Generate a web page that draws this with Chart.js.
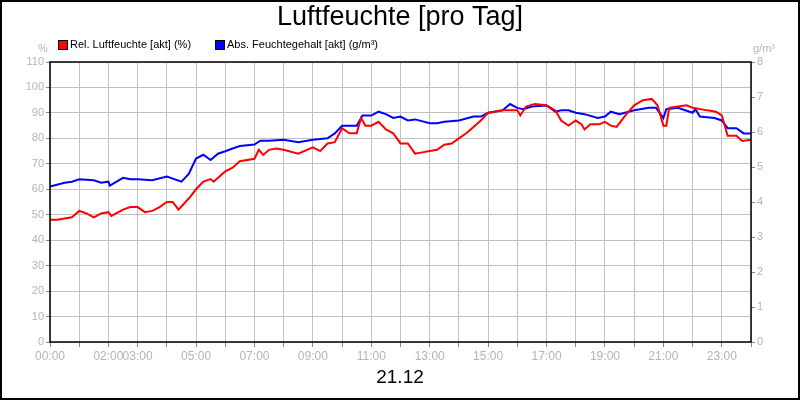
<!DOCTYPE html>
<html><head><meta charset="utf-8">
<script src="https://cdn.jsdelivr.net/npm/chart.js@4"></script>
<style>html,body{margin:0;padding:0;background:#fff}#c{display:block}</style>
</head><body>
<div style="width:800px;height:400px"><canvas id="c" width="800" height="400"></canvas></div>
<script>
const hours = [0,0.25,0.5,0.75,1,1.25,1.5,1.75,2,2.1,2.5,2.75,3,3.25,3.5,3.75,4,4.2,4.4,4.6,4.8,5,5.25,5.5,5.6,6,6.25,6.5,7,7.15,7.3,7.5,7.75,8,8.5,9,9.25,9.5,9.75,10,10.25,10.5,10.65,10.8,11,11.25,11.5,11.75,12,12.25,12.5,12.75,13,13.25,13.5,13.75,14,14.25,14.5,14.75,15,15.5,16,16.1,16.3,16.6,17,17.3,17.5,17.75,18,18.2,18.3,18.5,18.8,19,19.2,19.4,19.7,20,20.3,20.6,20.8,21,21.1,21.2,21.5,21.8,22,22.5,22.8,23,23.2,23.5,23.7,24];
const relHumidity = [48,48,48.5,49,51.5,50.5,49,50.5,51,49.5,52,53,53,51,51.5,53,55,55,52,54.5,57,60,63,64,63,67,68.5,71,72,75.5,73.5,75.5,76,75.5,74,76.5,75,78,78.5,84,82,82,88,85,85,86.5,83.5,82,78,78,74,74.5,75,75.5,77.5,78,80,82,84.5,87,90,91,91,89,92.5,93.5,93,91,87,85,87,85.5,83.5,85.5,85.5,86.5,85,84.5,89,93,95,95.5,93,85,85,92,92.5,93,92,91,90.5,89,81,81,79,79.5];
const absHours = [0,0.5,0.75,1,1.5,1.75,2,2.05,2.5,2.75,3,3.5,4,4.5,4.75,5,5.25,5.5,5.75,6,6.25,6.5,7,7.2,7.5,8,8.5,9,9.5,9.75,10,10.5,10.7,11,11.25,11.5,11.75,12,12.25,12.5,13,13.25,13.5,14,14.5,14.75,15,15.5,15.75,16,16.2,16.5,17,17.3,17.5,17.75,18,18.3,18.75,19,19.2,19.5,20,20.5,20.75,21,21.1,21.5,22,22.1,22.25,22.75,23,23.2,23.5,23.75,24];
const absHumidity = [4.44,4.55,4.58,4.65,4.62,4.55,4.58,4.47,4.69,4.65,4.65,4.62,4.73,4.58,4.80,5.24,5.35,5.20,5.38,5.45,5.53,5.60,5.64,5.75,5.75,5.78,5.71,5.78,5.82,5.96,6.18,6.18,6.47,6.47,6.58,6.51,6.40,6.44,6.33,6.36,6.25,6.25,6.29,6.33,6.44,6.44,6.55,6.62,6.80,6.69,6.65,6.73,6.76,6.58,6.62,6.62,6.55,6.51,6.40,6.44,6.58,6.51,6.62,6.69,6.69,6.40,6.65,6.69,6.55,6.65,6.44,6.40,6.33,6.11,6.11,5.96,5.96];
const xTickLabels = {0:'00:00',2:'02:00',3:'03:00',5:'05:00',7:'07:00',9:'09:00',11:'11:00',13:'13:00',15:'15:00',17:'17:00',19:'19:00',21:'21:00',23:'23:00'};
const FONT='"Liberation Sans", Arial, sans-serif';
const GREY='#b4b4b4';
const deco={id:'deco',afterDraw(ch){const c=ch.ctx,a=ch.chartArea;c.save();
 c.strokeStyle='#000';c.lineWidth=1.5;c.strokeRect(a.left,a.top,a.right-a.left,a.bottom-a.top);
 c.lineWidth=2;c.strokeRect(1,1,798,398);
 c.fillStyle='#000';c.textAlign='center';c.textBaseline='middle';
 c.font='27px '+FONT;c.fillText('Luftfeuchte [pro Tag]',400,18);
 c.font='19px '+FONT;c.fillText('21.12',400,378);
 c.font='11px '+FONT;c.textAlign='left';
 c.fillStyle='#f00';c.fillRect(59,41,8,8);c.strokeStyle='#000';c.lineWidth=1;c.strokeRect(58.5,40.5,9,9);
 c.fillStyle='#000';c.fillText('Rel. Luftfeuchte [akt] (%)',70,45);
 c.fillStyle='#00f';c.fillRect(216,41,8,8);c.strokeRect(215.5,40.5,9,9);
 c.fillStyle='#000';c.fillText('Abs. Feuchtegehalt [akt] (g/m³)',227,45);
 c.fillStyle=GREY;c.textAlign='left';c.fillText('%',38,49);c.fillText('g/m³',753,49);
 c.restore();}};
new Chart(document.getElementById('c'),{type:'line',
 data:{datasets:[
  {data:hours.map((h,i)=>({x:h,y:relHumidity[i]})),borderColor:'#f00',borderWidth:2,pointRadius:0,tension:0,yAxisID:'y'},
  {data:absHours.map((h,i)=>({x:h,y:absHumidity[i]})),borderColor:'#00f',borderWidth:2,pointRadius:0,tension:0,yAxisID:'y1'}]},
 plugins:[deco],
 options:{responsive:false,animation:false,devicePixelRatio:1,
  layout:{padding:{top:62,left:0,right:0,bottom:0}},
  plugins:{legend:{display:false},tooltip:{enabled:false}},
  scales:{
   x:{type:'linear',min:0,max:24,afterFit(s){s.height=58;},
    ticks:{stepSize:1,autoSkip:false,maxRotation:0,color:GREY,font:{family:FONT,size:12},padding:2,callback:v=>xTickLabels[v]||''},
    grid:{color:'#c0c0c0',tickLength:5,tickColor:'#888'},border:{display:false}},
   y:{position:'left',min:0,max:110,afterFit(s){s.width=50;},
    ticks:{stepSize:10,color:GREY,font:{family:FONT,size:11},padding:2},
    grid:{color:'#c0c0c0',tickLength:4,tickColor:'#888'},border:{display:false}},
   y1:{position:'right',min:0,max:8,afterFit(s){s.width=49;},
    ticks:{stepSize:1,color:GREY,font:{family:FONT,size:11},padding:2},
    grid:{drawOnChartArea:false,tickLength:4,tickColor:'#888'},border:{display:false}}
  }}});
</script></body></html>
